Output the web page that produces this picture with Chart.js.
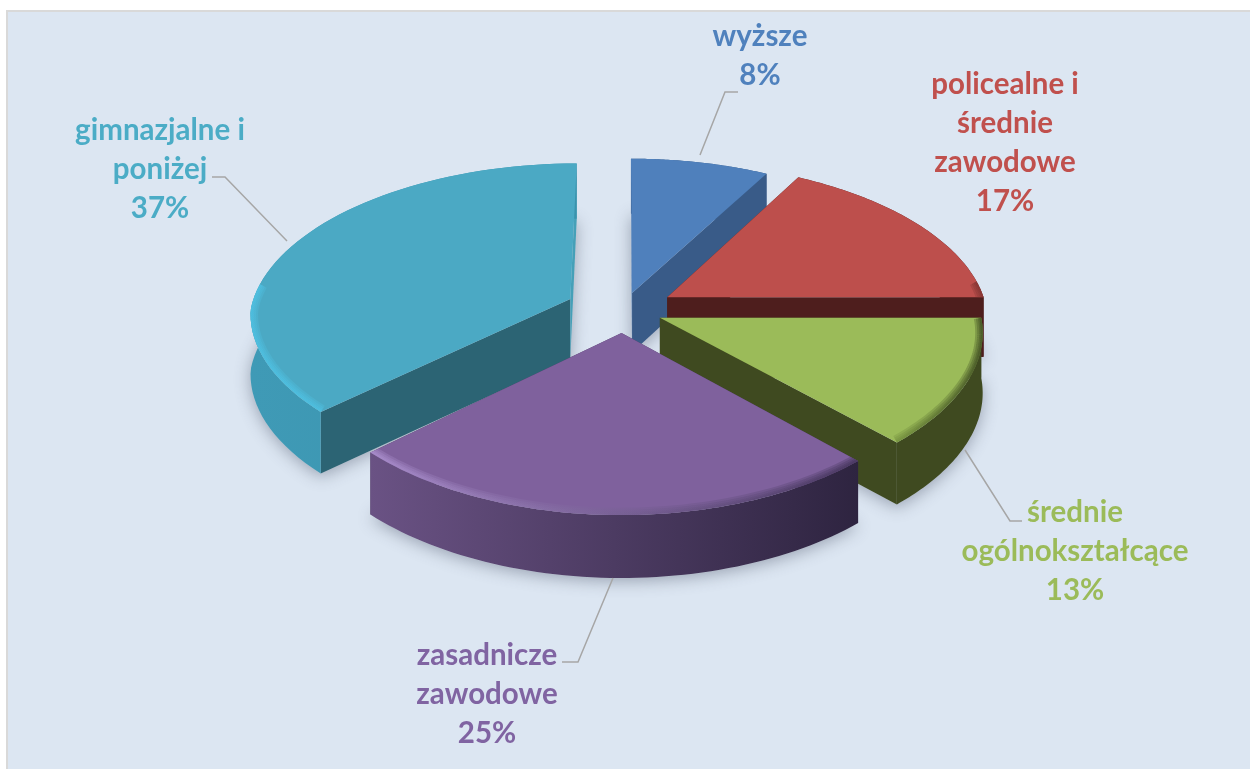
<!DOCTYPE html>
<html lang="pl">
<head>
<meta charset="utf-8">
<title>Wykształcenie</title>
<script src="https://cdn.jsdelivr.net/npm/chart.js@4"></script>
<style>
    html, body { margin: 0; padding: 0; background: #fff; }
    #panel { position: absolute; left: 6px; top: 10px; width: 1244px; height: 759px; box-sizing: border-box;
             background: #dce6f2; border-left: 2px solid #d9d9d9; border-top: 2px solid #d9d9d9; }
    #pieChart { position: absolute; left: 0; top: 0; }
</style>
</head>
<body>
<div id="panel"></div>
<canvas id="pieChart" width="1250" height="769"></canvas>
<script>
// Data
const categories = ['wyższe', 'policealne i średnie zawodowe', 'średnie ogólnokształcące', 'zasadnicze zawodowe', 'gimnazjalne i poniżej'];
const shares = [8, 17, 13, 25, 37];
const labelLines = [['wyższe'], ['policealne i', 'średnie', 'zawodowe'], ['średnie', 'ogólnokształcące'], ['zasadnicze', 'zawodowe'], ['gimnazjalne i', 'poniżej']];

// Colours
const topColors = ['#4f80bc', '#bd4f4c', '#9bbb59', '#7f619d', '#4ba9c4'];
const textColors = ['#4f81bd', '#c0504d', '#9bbb59', '#8064a2', '#4bacc6'];
const startCutColors = ['#4f80bc', '#4e1e1d', '#3f4a20', '#4a3a60', '#2c6474'];
const endCutColors = ['#395b88', '#4e1e1d', '#3f4a20', '#4a3a60', '#45a0b8'];
const wallLeft = ['#395b88', '#4e1e1d', '#3f4a20', '#6a5284', '#3f9ab6'];
const wallRight = ['#395b88', '#4e1e1d', '#3f4a20', '#2e2440', '#3a93ad'];
const rimLeft = ['#4f80bc', '#8e3a38', '#6e8a3a', '#b498d8', '#4fc4e6'];
const rimRight = ['#4f80bc', '#7a302e', '#2f3a18', '#3a2c50', '#4fc4e6'];

// Layout
const sliceOffsets = [37, 52, 40, 47, 58];
const drawOrder = [0, 1, 2, 4, 3];
const tilt = 0.482, depth = 60;
const perspY = 0.12, perspBack = 0.14, perspFront = 0.085;
const labelX = [760, 1005, 1075, 487, 160];
const labelY = [36, 84, 512, 655, 130];
const lineGap = 39;
const leaders = [
    [[700, 155], [725, 92], [738, 92]],
    null,
    [[965, 450], [1010, 521], [1022, 521]],
    [[613, 578], [578, 662], [562, 662]],
    [[287, 241], [225, 177], [212, 177]]
];

function slicePoints(arc, index, chart) {
    const cx = chart.chartArea.left + chart.chartArea.width / 2;
    const cy = chart.chartArea.top + chart.chartArea.height / 2;
    const R = arc.outerRadius;
    const mid = (arc.startAngle + arc.endAngle) / 2;
    const off = sliceOffsets[index];
    const project = (a, r, z) => {
        const x = off * Math.cos(mid) + r * Math.cos(a);
        const y = off * Math.sin(mid) + r * Math.sin(a);
        const wx = 1 / (1 - (y < 0 ? perspBack : perspFront) * y / R);
        const wy = 1 / (1 - perspY * y / R);
        const wz = 1 / (1 - (y < 0 ? 0.08 : 0.04) * y / R);
        return [cx + x * wx, cy + tilt * y * wy + z * wz];
    };
    const steps = 60;
    const curve = z => {
        const pts = [];
        for (let i = 0; i <= steps; i++) {
            pts.push(project(arc.startAngle + (arc.endAngle - arc.startAngle) * i / steps, R, z));
        }
        return pts;
    };
    // only the part of the edge that faces the viewer gets a bevel
    const rim = [];
    curve(0).forEach((p, i) => {
        const a = arc.startAngle + (arc.endAngle - arc.startAngle) * i / steps;
        if (Math.sin(a) > -0.12) rim.push(p);
    });
    return {
        top: curve(0),
        bottom: curve(depth),
        rim: rim,
        tip: project(mid, 0, 0),
        tipLow: project(mid, 0, depth)
    };
}

function tracePath(ctx, pts, start) {
    ctx.beginPath();
    if (start) ctx.moveTo(start[0], start[1]);
    pts.forEach((p, i) => {
        if (i === 0 && !start) ctx.moveTo(p[0], p[1]);
        else ctx.lineTo(p[0], p[1]);
    });
    ctx.closePath();
}

function xGradient(ctx, pts, left, right) {
    const xs = pts.map(p => p[0]);
    const g = ctx.createLinearGradient(Math.min(...xs), 0, Math.max(...xs), 0);
    g.addColorStop(0, left);
    g.addColorStop(1, right);
    return g;
}

function drawCut(ctx, s, edge, edgeLow, color) {
    ctx.fillStyle = color;
    tracePath(ctx, [s.tip, edge, edgeLow, s.tipLow]);
    ctx.fill();
}

const pie3d = {
    id: 'pie3d',
    beforeDatasetsDraw(chart) {
        const ctx = chart.ctx;
        const arcs = chart.getDatasetMeta(0).data;
        const slices = arcs.map((arc, i) => slicePoints(arc, i, chart));

        // soft shadow on the ground
        ctx.save();
        ctx.shadowColor = 'rgba(70,80,100,0.45)';
        ctx.shadowBlur = 16;
        ctx.shadowOffsetY = 3;
        ctx.fillStyle = '#c4ccd8';
        slices.forEach(s => {
            tracePath(ctx, s.bottom, s.tipLow);
            ctx.fill();
        });
        ctx.restore();

        drawOrder.forEach(i => {
            const s = slices[i];
            const n = s.top.length - 1;

            drawCut(ctx, s, s.top[0], s.bottom[0], startCutColors[i]);
            drawCut(ctx, s, s.top[n], s.bottom[n], endCutColors[i]);

            // outer wall
            ctx.fillStyle = xGradient(ctx, s.top, wallLeft[i], wallRight[i]);
            tracePath(ctx, s.top.concat(s.bottom.slice().reverse()));
            ctx.fill();

            // top face
            ctx.fillStyle = arcs[i].options.backgroundColor;
            tracePath(ctx, s.top, s.tip);
            ctx.fill();

            // bevel along the outer edge
            ctx.save();
            tracePath(ctx, s.top, s.tip);
            ctx.clip();
            ctx.strokeStyle = xGradient(ctx, s.top, rimLeft[i], rimRight[i]);
            ctx.lineJoin = 'round';
            [15, 11, 7, 4].forEach(width => {
                ctx.globalAlpha = 0.28;
                ctx.lineWidth = width;
                ctx.beginPath();
                s.rim.forEach((p, k) => k ? ctx.lineTo(p[0], p[1]) : ctx.moveTo(p[0], p[1]));
                ctx.stroke();
            });
            ctx.restore();
        });
        return false;
    },
    afterDraw(chart) {
        const ctx = chart.ctx;
        ctx.save();
        ctx.strokeStyle = '#a6a6a6';
        ctx.lineWidth = 1.5;
        leaders.forEach(line => {
            if (!line) return;
            ctx.beginPath();
            line.forEach((p, k) => k ? ctx.lineTo(p[0], p[1]) : ctx.moveTo(p[0], p[1]));
            ctx.stroke();
        });
        ctx.font = 'bold 29.5px Lato';
        ctx.textAlign = 'center';
        ctx.textBaseline = 'middle';
        labelLines.forEach((lines, i) => {
            ctx.fillStyle = textColors[i];
            lines.concat(shares[i] + '%').forEach((text, k) => {
                ctx.fillText(text, labelX[i], labelY[i] + k * lineGap);
            });
        });
        ctx.restore();
    }
};

new Chart(document.getElementById('pieChart'), {
    type: 'pie',
    data: {
        labels: categories,
        datasets: [{
            data: shares,
            backgroundColor: topColors,
            offset: sliceOffsets,
            borderWidth: 0
        }]
    },
    options: {
        responsive: false,
        animation: false,
        radius: 320,
        layout: { padding: { left: 0, right: 4, top: 0, bottom: 149 } },
        plugins: { legend: { display: false }, tooltip: { enabled: false } }
    },
    plugins: [pie3d]
});
</script>
</body>
</html>
